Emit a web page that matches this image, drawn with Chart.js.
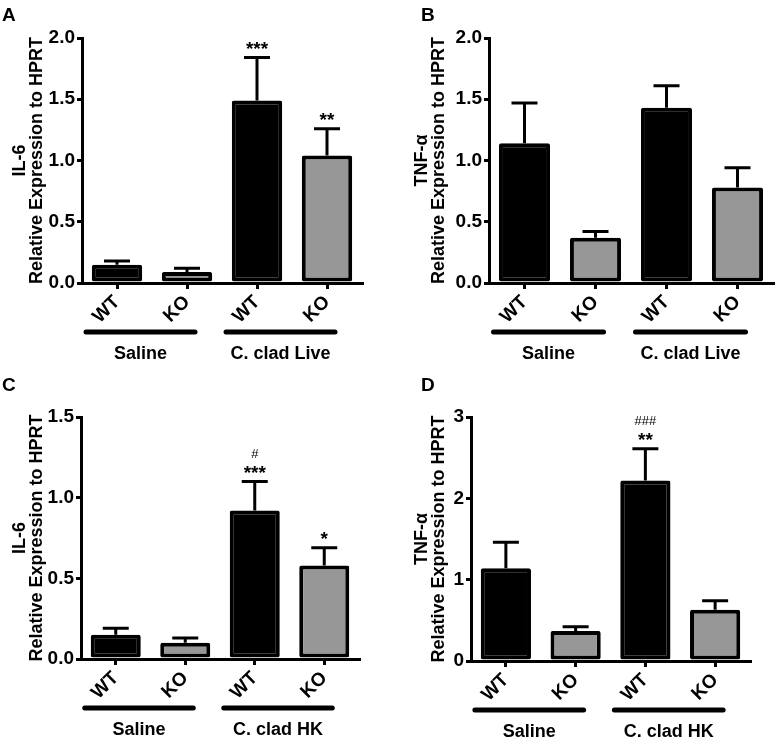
<!DOCTYPE html>
<html>
<head>
<meta charset="utf-8">
<script src="https://cdn.jsdelivr.net/npm/chart.js@4"></script>
<style>
  body { margin: 0; background: #fff; }
  #fig { position: relative; width: 777px; height: 743px; }
  #fig canvas { position: absolute; }
</style>
</head>
<body>
<div id="fig">
  <canvas id="panelA" width="388" height="370" style="left:0;top:0"></canvas>
  <canvas id="panelB" width="389" height="370" style="left:388px;top:0"></canvas>
  <canvas id="panelC" width="388" height="373" style="left:0;top:370px"></canvas>
  <canvas id="panelD" width="389" height="373" style="left:388px;top:370px"></canvas>
</div>
<script>
const genotypes = ['WT', 'KO', 'WT', 'KO'];
const barColors = ['#000000', '#979797', '#000000', '#979797'];

// A: IL-6, live C. clad
const il6LiveMean = [0.15, 0.09, 1.49, 1.04];
const il6LiveSem = [0.03, 0.03, 0.35, 0.22];
const il6LiveStars = ['', '', ['***'], ['**']];

// B: TNF-a, live C. clad
const tnfLiveMean = [1.14, 0.37, 1.43, 0.78];
const tnfLiveSem = [0.33, 0.05, 0.18, 0.16];
const tnfLiveStars = ['', '', '', ''];

// C: IL-6, heat killed
const il6HkMean = [0.15, 0.10, 0.92, 0.58];
const il6HkSem = [0.04, 0.03, 0.18, 0.11];
const il6HkStars = ['', '', ['#', '***'], ['*']];

// D: TNF-a, heat killed
const tnfHkMean = [1.14, 0.37, 2.22, 0.63];
const tnfHkSem = [0.32, 0.05, 0.39, 0.11];
const tnfHkStars = ['', '', ['###', '**'], ''];

const liveGroups = ['Saline', 'C. clad Live'];
const hkGroups = ['Saline', 'C. clad HK'];

const FONT = "'Liberation Sans', Arial, Helvetica, sans-serif";

// error bars, significance marks, group bars, panel letter
const figureExtras = {
  id: 'figureExtras',
  afterDatasetsDraw(chart, args, opts) {
    const ctx = chart.ctx;
    const y = chart.scales.y;
    const values = chart.data.datasets[0].data;
    ctx.save();
    ctx.strokeStyle = '#000';
    ctx.fillStyle = '#000';
    ctx.lineWidth = 3;
    chart.getDatasetMeta(0).data.forEach((bar, i) => {
      const top = y.getPixelForValue(values[i] + opts.sem[i]);
      ctx.beginPath();
      ctx.moveTo(bar.x, bar.y);
      ctx.lineTo(bar.x, top);
      ctx.moveTo(bar.x - 13, top);
      ctx.lineTo(bar.x + 13, top);
      ctx.stroke();

      const marks = opts.stars[i];
      if (marks) {
        ctx.textAlign = 'center';
        ctx.textBaseline = 'alphabetic';
        let base = top - 8;
        for (let k = marks.length - 1; k >= 0; k--) {
          const m = marks[k];
          const hash = m.includes('#');
          ctx.font = hash ? '13px ' + FONT : 'bold 19px ' + FONT;
          ctx.fillText(m, bar.x, hash ? base + 2 : base + 5);
          base -= 18;
        }
      }
    });
    ctx.restore();
  },
  afterDraw(chart, args, opts) {
    const ctx = chart.ctx;
    const x = chart.scales.x;
    const bottom = chart.chartArea.bottom;
    ctx.save();
    ctx.strokeStyle = '#000';
    ctx.fillStyle = '#000';
    ctx.lineWidth = 5;
    ctx.lineCap = 'round';
    opts.groups.forEach((name, g) => {
      const x0 = x.getPixelForValue(g * 2) - 31;
      const x1 = x.getPixelForValue(g * 2 + 1) + 8;
      ctx.beginPath();
      ctx.moveTo(x0, bottom + 49);
      ctx.lineTo(x1, bottom + 49);
      ctx.stroke();
      ctx.font = 'bold 18px ' + FONT;
      ctx.textAlign = 'center';
      ctx.textBaseline = 'middle';
      ctx.fillText(name, (x0 + x1) / 2, bottom + 71);
    });
    ctx.font = 'bold 19px ' + FONT;
    ctx.textAlign = 'left';
    ctx.textBaseline = 'top';
    ctx.fillText(opts.letter, opts.letterX, opts.letterY);
    ctx.restore();
  }
};

function makePanel(id, p) {
  const ctx = document.getElementById(id).getContext('2d');
  new Chart(ctx, {
    type: 'bar',
    data: {
      labels: genotypes,
      datasets: [{
        data: p.mean,
        backgroundColor: barColors,
        borderColor: '#000',
        borderWidth: 4,
        borderSkipped: false,
        borderRadius: 2,
        barPercentage: 0.72,
        categoryPercentage: 1
      }]
    },
    options: {
      responsive: false,
      animation: false,
      layout: { padding: p.pad },
      plugins: {
        legend: { display: false },
        tooltip: { enabled: false },
        figureExtras: {
          sem: p.sem, stars: p.stars, groups: p.groups,
          letter: p.letter, letterX: p.letterX, letterY: p.letterY
        }
      },
      scales: {
        x: {
          ticks: {
            color: '#000', minRotation: 45, maxRotation: 45, padding: 2,
            font: { size: 19, weight: 'bold', family: FONT }
          },
          grid: { drawOnChartArea: false, offset: false, color: '#000', lineWidth: 3, tickLength: 6 },
          border: { color: '#000', width: 3 },
          afterFit: s => { s.height = p.xHeight; }
        },
        y: {
          min: 0,
          max: p.yMax,
          ticks: {
            stepSize: p.step, color: '#000', padding: 2,
            callback: v => v.toFixed(p.dec),
            font: { size: 19, weight: 'bold', family: FONT }
          },
          grid: { drawOnChartArea: false, color: '#000', lineWidth: 3, tickLength: 5 },
          border: { color: '#000', width: 3 },
          title: {
            display: true,
            text: [p.cytokine, 'Relative Expression to HPRT'],
            color: '#000',
            padding: 0,
            font: { size: 18, weight: 'bold', family: FONT, lineHeight: 0.95 }
          },
          afterFit: s => { s.width = p.yWidth; }
        }
      }
    },
    plugins: [figureExtras]
  });
}

makePanel('panelA', {
  mean: il6LiveMean, sem: il6LiveSem, stars: il6LiveStars, groups: liveGroups,
  cytokine: 'IL-6', yMax: 2, step: 0.5, dec: 1, letter: 'A', letterX: 2, letterY: 6,
  pad: { left: 11, top: 38, right: 26, bottom: 0 }, yWidth: 71, xHeight: 87
});
makePanel('panelB', {
  mean: tnfLiveMean, sem: tnfLiveSem, stars: tnfLiveStars, groups: liveGroups,
  cytokine: 'TNF-α', yMax: 2, step: 0.5, dec: 1, letter: 'B', letterX: 33, letterY: 6,
  pad: { left: 25, top: 38, right: 4, bottom: 0 }, yWidth: 76, xHeight: 87
});
makePanel('panelC', {
  mean: il6HkMean, sem: il6HkSem, stars: il6HkStars, groups: hkGroups,
  cytokine: 'IL-6', yMax: 1.5, step: 0.5, dec: 1, letter: 'C', letterX: 2, letterY: 6,
  pad: { left: 11, top: 47, right: 29, bottom: 0 }, yWidth: 70, xHeight: 84
});
makePanel('panelD', {
  mean: tnfHkMean, sem: tnfHkSem, stars: tnfHkStars, groups: hkGroups,
  cytokine: 'TNF-α', yMax: 3, step: 1, dec: 0, letter: 'D', letterX: 33, letterY: 6,
  pad: { left: 25, top: 47, right: 27, bottom: 0 }, yWidth: 58, xHeight: 82
});
</script>
</body>
</html>
